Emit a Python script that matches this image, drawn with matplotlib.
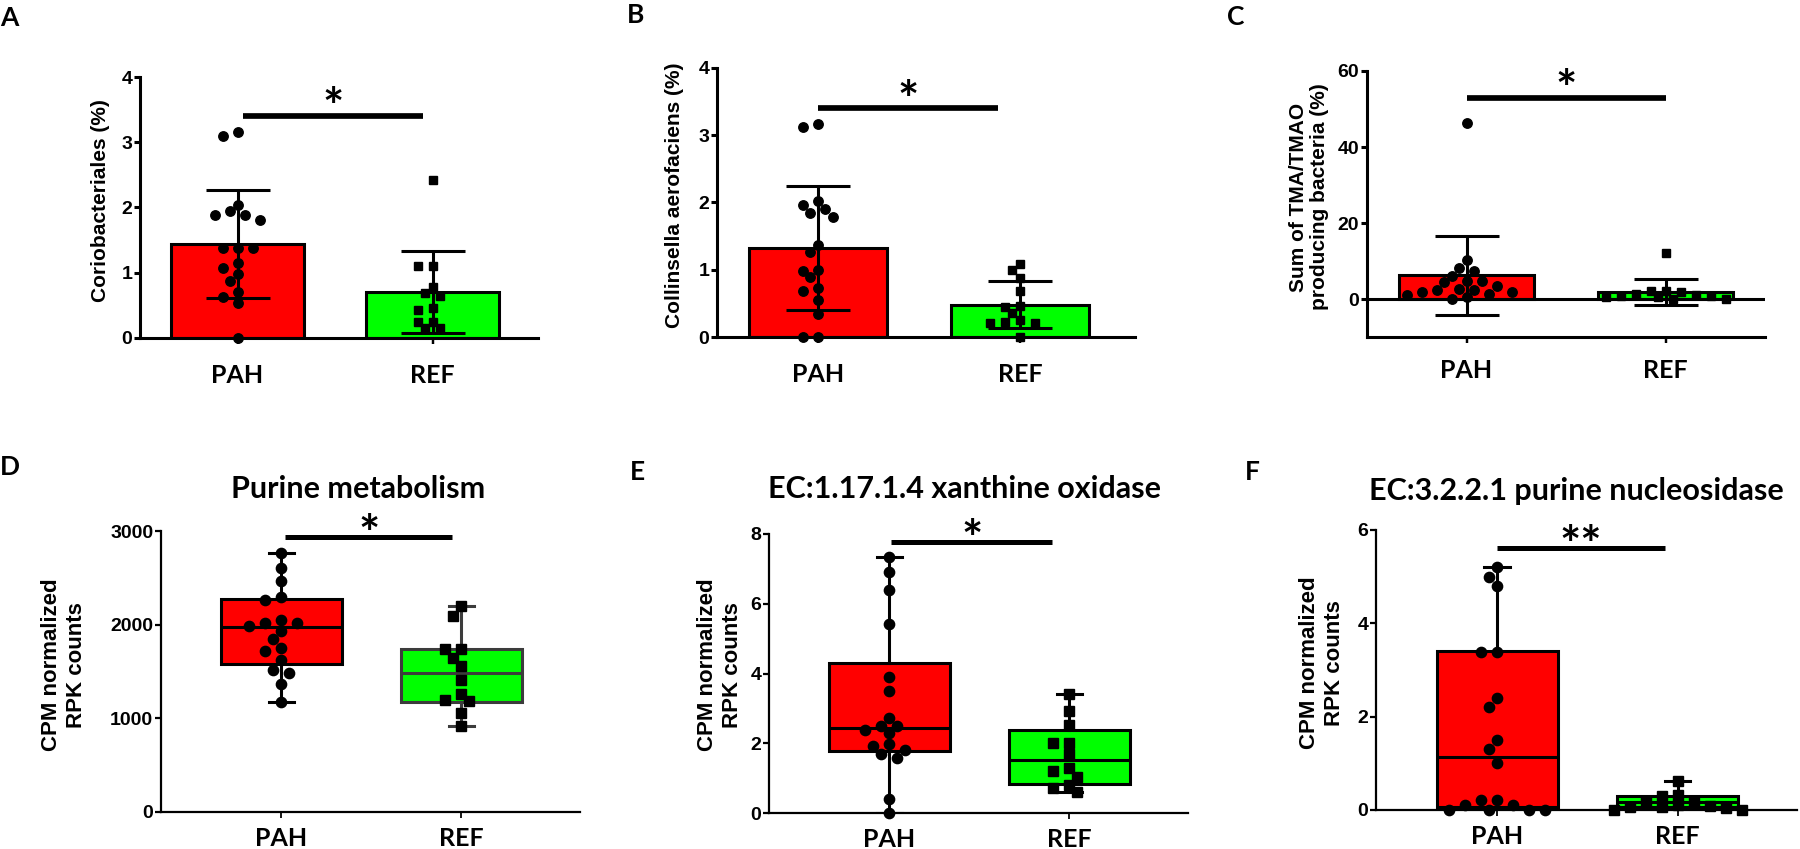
import numpy as np
import matplotlib.pyplot as plt

W, H, DPI = 1800, 849, 100
RED = '#ff0000'
GREEN = '#00ff00'

groups = ['PAH', 'REF']

# A - Coriobacteriales (%)
a_pah = [3.16, 3.10, 2.04, 1.95, 1.89, 1.89, 1.81, 1.38, 1.38, 1.38, 1.15, 1.08, 0.98, 0.88, 0.71, 0.63, 0.54, 0.0]
a_ref = [2.42, 1.11, 1.11, 0.78, 0.69, 0.64, 0.46, 0.43, 0.25, 0.25, 0.15, 0.15]
a_mean = [1.44, 0.71]
a_sd = [0.83, 0.63]

# B - Collinsella aerofaciens (%)
b_pah = [3.17, 3.12, 2.02, 1.96, 1.90, 1.85, 1.78, 1.37, 1.26, 0.99, 0.98, 0.89, 0.73, 0.68, 0.55, 0.34, 0.0, 0.0]
b_ref = [1.09, 0.99, 0.88, 0.68, 0.46, 0.44, 0.35, 0.26, 0.22, 0.21, 0.21, 0.0]
b_mean = [1.32, 0.48]
b_sd = [0.92, 0.35]

# C - sum of TMA/TMAO producing bacteria (%)
c_pah = [46.3, 10.3, 8.1, 7.3, 6.1, 4.8, 4.8, 4.4, 3.3, 2.6, 2.4, 2.4, 1.8, 1.8, 1.3, 1.1, 0.6, 0.0]
c_ref = [12.2, 2.1, 2.0, 1.9, 1.2, 1.0, 0.9, 0.8, 0.6, 0.4, 0.1, 0.0]
c_mean = [6.2, 1.85]
c_sd = [10.4, 3.35]

# D - Purine metabolism
d_pah = [2761, 2608, 2469, 2298, 2262, 2048, 2020, 2020, 1988, 1934, 1845, 1746, 1717, 1621, 1521, 1486, 1364, 1176]
d_ref = [2198, 2091, 1742, 1735, 1649, 1557, 1414, 1258, 1200, 1183, 1062, 916]
d_lo, d_q1, d_med, d_q3, d_hi = [1176, 916], [1578, 1176], [1970, 1489], [2273, 1742], [2761, 2202]

# E - EC:1.17.1.4 xanthine oxidase
e_pah = [7.33, 6.92, 6.40, 5.41, 3.91, 3.51, 2.71, 2.50, 2.50, 2.39, 2.30, 1.99, 1.92, 1.80, 1.70, 1.59, 0.39, 0.0]
e_ref = [3.41, 2.92, 2.52, 2.01, 2.01, 1.70, 1.30, 1.21, 1.02, 0.80, 0.72, 0.60]
e_lo, e_q1, e_med, e_q3, e_hi = [0.0, 0.60], [1.78, 0.84], [2.45, 1.51], [4.29, 2.38], [7.34, 3.41]

# F - EC:3.2.2.1 purine nucleosidase
f_pah = [5.2, 5.0, 4.79, 3.39, 3.39, 2.41, 2.2, 1.5, 1.3, 1.0, 0.21, 0.21, 0.11, 0.11, 0.0, 0.0, 0.0, 0.0]
f_ref = [0.62, 0.33, 0.30, 0.20, 0.18, 0.10, 0.08, 0.07, 0.06, 0.05, 0.0, 0.0]
f_lo, f_q1, f_med, f_q3, f_hi = [0.0, 0.0], [0.07, 0.07], [1.14, 0.18], [3.41, 0.29], [5.2, 0.62]

plt.rcParams['font.family'] = 'Liberation Sans'
plt.rcParams['font.weight'] = 'bold'

fig = plt.figure(figsize=(W / DPI, H / DPI), dpi=DPI)


def new_axes(l, t, r, b):
    return fig.add_axes([l / W, 1 - b / H, (r - l) / W, (b - t) / H])


def ftext(x, y, s, **kw):
    fig.text(x / W, 1 - y / H, s, **kw)


def swarm(ax, xc, vals, diam, step):
    # simple beeswarm so that the dots do not sit on each other
    tr = ax.transData
    x0 = tr.transform((xc, 0))[0]
    cands = [0] + [s * i for i in range(1, 40) for s in (-1, 1)]
    placed, xs = [], []
    for v in vals:
        y = tr.transform((xc, v))[1]
        for c in cands:
            x = x0 + c * step
            if all((x - px) ** 2 + (y - py) ** 2 >= diam ** 2 for px, py in placed):
                break
        placed.append((x, y))
        xs.append(tr.inverted().transform((x, y))[0])
    return xs


def style(ax, lw, xpad):
    for s in ['top', 'right']:
        ax.spines[s].set_visible(False)
    for s in ['left', 'bottom']:
        ax.spines[s].set_linewidth(lw)
    ax.tick_params(axis='y', direction='out', length=4, width=lw, pad=1.5, labelsize=14)
    ax.tick_params(axis='x', direction='out', length=4, width=lw * 0.8, pad=xpad)
    ax.set_xticks([0, 1])
    ax.set_xticklabels(groups, fontfamily='Lato', fontsize=18, fontweight='bold')


def sig(ax, x1, x2, y, stars, lw, off):
    ax.plot([x1, x2], [y, y], color='black', lw=lw, solid_capstyle='butt', clip_on=False)
    ax.annotate(stars, xy=((x1 + x2) / 2, y), xytext=(0, off), textcoords='offset points',
                ha='center', va='baseline', fontsize=36, fontweight='bold', fontfamily='Lato')


def bar_panel(ax, pah, ref, mean, sd, ylim, yticks, xlim):
    ax.set_xlim(*xlim)
    ax.set_ylim(*ylim)
    ax.set_yticks(yticks)
    ax.bar([0, 1], mean, width=0.68, color=[RED, GREEN], edgecolor='black', linewidth=2.2, zorder=1)
    ax.errorbar([0, 1], mean, yerr=sd, fmt='none', ecolor='black', elinewidth=2.2,
                capsize=23, capthick=2.2, zorder=2)
    ax.plot(swarm(ax, 0, pah, 9.5, 7.5), pah, 'o', color='black', ms=6.8, zorder=3, clip_on=False)
    ax.plot(swarm(ax, 1, ref, 9.5, 7.5), ref, 's', color='black', ms=6.3, zorder=3, clip_on=False)
    style(ax, 2.2, 15)


def box_panel(ax, pah, ref, lo, q1, med, q3, hi, ylim, yticks, ref_edge='black'):
    ax.set_xlim(-0.67, 1.66)
    ax.set_ylim(*ylim)
    ax.set_yticks(yticks)
    stats = [dict(whislo=lo[i], q1=q1[i], med=med[i], q3=q3[i], whishi=hi[i], label=groups[i])
             for i in range(2)]
    bp = ax.bxp(stats, positions=[0, 1], widths=0.67, patch_artist=True, showfliers=False,
                capwidths=0.14, manage_ticks=False,
                boxprops=dict(linewidth=2.2, edgecolor='black'),
                medianprops=dict(linewidth=2.2, color='black'),
                whiskerprops=dict(linewidth=2.2, color='black'),
                capprops=dict(linewidth=2.2, color='black'))
    for patch, col in zip(bp['boxes'], [RED, GREEN]):
        patch.set_facecolor(col)
    if ref_edge != 'black':
        bp['boxes'][1].set_edgecolor(ref_edge)
        bp['medians'][1].set_color(ref_edge)
        for art in bp['whiskers'][2:] + bp['caps'][2:]:
            art.set_color(ref_edge)
    ax.plot(swarm(ax, 0, pah, 10.5, 8), pah, 'o', color='black', ms=7.4, zorder=3, clip_on=False)
    ax.plot(swarm(ax, 1, ref, 10.5, 8), ref, 's', color='black', ms=6.8, zorder=3, clip_on=False)
    style(ax, 1.6, 6.5)


# ---- top row ----
axA = new_axes(140, 77, 538, 338)
bar_panel(axA, a_pah, a_ref, a_mean, a_sd, (0, 4), [0, 1, 2, 3, 4], (-0.5, 1.54))
sig(axA, 0.03, 0.95, 3.40, '*', 4.1, -6)

axB = new_axes(717, 68, 1135, 337)
bar_panel(axB, b_pah, b_ref, b_mean, b_sd, (0, 4), [0, 1, 2, 3, 4], (-0.5, 1.57))
sig(axB, 0.0, 0.89, 3.40, '*', 4.1, -6)

axC = new_axes(1367, 71, 1765, 337)
axC.axhline(0, color='black', lw=2.2, zorder=2)
bar_panel(axC, c_pah, c_ref, c_mean, c_sd, (-10, 60), [0, 20, 40, 60], (-0.5, 1.5))
axC.tick_params(axis='x', pad=12)
sig(axC, 0.0, 1.0, 52.9, '*', 4.1, -6)

# ---- bottom row ----
axD = new_axes(161, 531, 580, 812)
box_panel(axD, d_pah, d_ref, d_lo, d_q1, d_med, d_q3, d_hi, (0, 3000), [0, 1000, 2000, 3000],
          ref_edge='#3c3c3c')
sig(axD, 0.02, 0.95, 2939, '*', 3.6, -10)

axE = new_axes(769, 534, 1188, 813)
box_panel(axE, e_pah, e_ref, e_lo, e_q1, e_med, e_q3, e_hi, (0, 8), [0, 2, 4, 6, 8])
sig(axE, 0.01, 0.905, 7.77, '*', 3.6, -10)

axF = new_axes(1376, 530, 1797, 810)
box_panel(axF, f_pah, f_ref, f_lo, f_q1, f_med, f_q3, f_hi, (0, 6), [0, 2, 4, 6])
sig(axF, 0.0, 0.93, 5.62, '**', 3.6, -10)

# y labels
ftext(100, 201, 'Coriobacteriales (%)', rotation=90, ha='center', va='center', fontsize=15)
ftext(675, 195, 'Collinsella aerofaciens (%)', rotation=90, ha='center', va='center', fontsize=15)
ftext(1309, 197, 'Sum of TMA/TMAO\nproducing bacteria (%)', rotation=90, ha='center',
      va='center', fontsize=15, linespacing=1.15)
for x, y in [(64, 665), (720, 665), (1322, 663)]:
    ftext(x, y, 'CPM normalized\nRPK counts', rotation=90, ha='center', va='center',
          fontsize=16, linespacing=1.2)

# titles
ftext(358, 498, 'Purine metabolism', ha='center', va='baseline', fontsize=22,
      fontfamily='Lato', fontweight='bold')
ftext(964, 498, 'EC:1.17.1.4 xanthine oxidase', ha='center', va='baseline', fontsize=22,
      fontfamily='Lato', fontweight='bold')
ftext(1576, 500, 'EC:3.2.2.1 purine nucleosidase', ha='center', va='baseline', fontsize=22,
      fontfamily='Lato', fontweight='bold')

# panel letters
for s, x, y in [('A', 0, 26), ('B', 627, 23), ('C', 1227, 25),
                ('D', 0, 475), ('E', 630, 480), ('F', 1245, 480)]:
    ftext(x, y, s, ha='left', va='baseline', fontsize=19, fontfamily='Lato', fontweight='bold')

fig.savefig('out.png', dpi=DPI)
